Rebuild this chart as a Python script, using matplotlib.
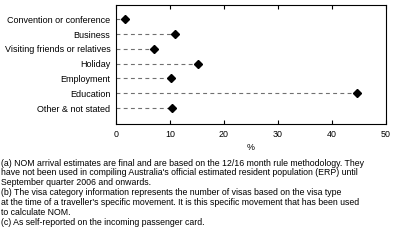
import matplotlib
matplotlib.use("Agg")
import matplotlib.pyplot as plt

categories = ["Convention or conference", "Business", "Visiting friends or relatives",
              "Holiday", "Employment", "Education", "Other & not stated"]
values = [1.7, 10.9, 7.0, 15.1, 10.1, 44.6, 10.4]
xticks = [0, 10, 20, 30, 40, 50]
footnotes = [
    "(a) NOM arrival estimates are final and are based on the 12/16 month rule methodology. They",
    "have not been used in compiling Australia's official estimated resident population (ERP) until",
    "September quarter 2006 and onwards.",
    "(b) The visa category information represents the number of visas based on the visa type",
    "at the time of a traveller's specific movement. It is this specific movement that has been used",
    "to calculate NOM.",
    "(c) As self-reported on the incoming passenger card.",
]

plt.rcParams['font.family'] = ['Liberation Sans', 'DejaVu Sans']
W, H = 397, 246
fig = plt.figure(figsize=(W / 100, H / 100), dpi=100)
ax = fig.add_axes([116 / W, 1 - 124 / H, (386 - 116) / W, (124 - 5) / H])

ys = list(range(len(categories)))
for y, v in zip(ys, values):
    ax.plot([0, v], [y, y], ls=(0, (3.5, 3)), color='#707070', lw=0.8)
ax.plot(values, ys, 'D', color='black', ms=4, mec='black')

ax.set_xlim(0, 50)
ax.set_ylim(len(categories) - 1 + 1.08, -0.97)
ax.set_xticks(xticks)
ax.set_xticklabels([str(t) for t in xticks], fontsize=6.4)
ax.set_yticks(ys)
ax.set_yticklabels(categories, fontsize=6.5)
ax.tick_params(axis='y', length=0, pad=4)
ax.tick_params(axis='x', direction='in', length=3, width=0.8, top=True, pad=4)
for s in ax.spines.values():
    s.set_linewidth(0.8)
ax.set_xlabel('%', fontsize=6.4, labelpad=3)

y0 = 163
for i, line in enumerate(footnotes):
    fig.text(1 / W, 1 - (y0 + i * 9.9) / H, line, fontsize=6.3, va='center', ha='left')

fig.savefig('out.png', dpi=100)
